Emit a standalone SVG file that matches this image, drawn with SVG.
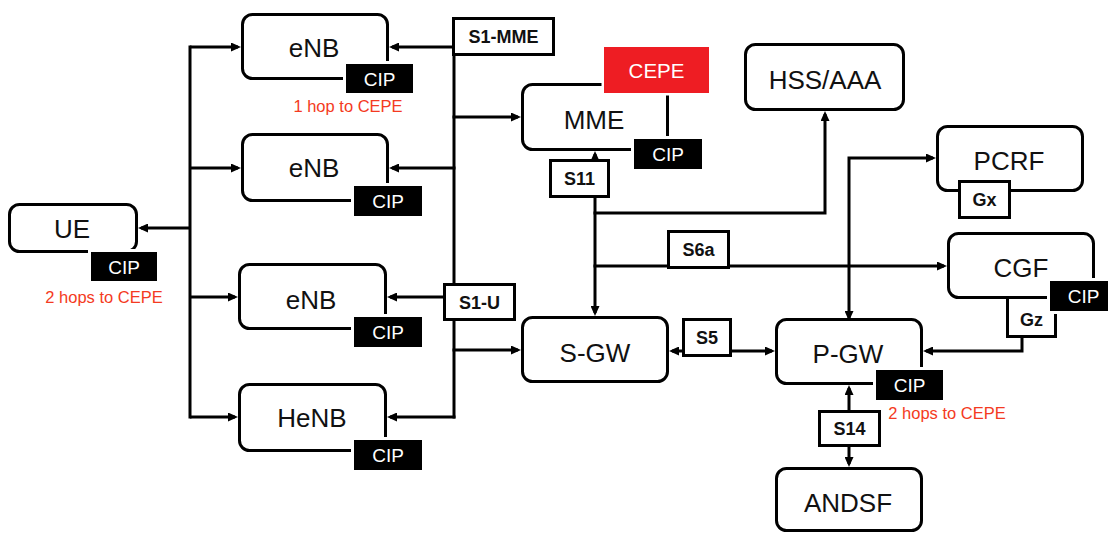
<svg xmlns="http://www.w3.org/2000/svg" width="1108" height="534" viewBox="0 0 1108 534">
  <defs>
    <marker id="arrow" viewBox="0 0 10 9" markerUnits="userSpaceOnUse" markerWidth="10" markerHeight="9" refX="7" refY="4.5" orient="auto-start-reverse">
      <path d="M0,0 L10,4.5 L0,9 z" fill="#000"/>
    </marker>
    <style>
      .box { fill: #fff; stroke: #000; stroke-width: 3; }
      .wire { fill: none; stroke: #000; stroke-width: 3; }
      .arr { fill: none; stroke: #000; stroke-width: 3; marker-end: url(#arrow); }
      .name { font-family: "Liberation Sans", Arial, sans-serif; font-size: 26px; fill: #111; text-anchor: middle; }
      .cip { fill: #000; stroke: #fff; stroke-width: 6; paint-order: stroke fill; }
      .cipt { font-family: "Liberation Sans", Arial, sans-serif; font-size: 19px; fill: #fff; text-anchor: middle; }
      .cepe { fill: #ee1d23; stroke: #fff; stroke-width: 5; paint-order: stroke fill; }
      .cepet { font-family: "Liberation Sans", Arial, sans-serif; font-size: 20.5px; fill: #fff; text-anchor: middle; }
      .ifc { fill: #fff; stroke: #000; stroke-width: 3; }
      .ifct { font-family: "Liberation Sans", Arial, sans-serif; font-size: 18px; font-weight: bold; fill: #111; text-anchor: middle; }
      .hop { font-family: "Liberation Sans", Arial, sans-serif; font-size: 16.5px; fill: #f43a22; text-anchor: middle; }
    </style>
  </defs>
  <rect width="1108" height="534" fill="#fff"/>

  <!-- links between elements -->
  <g id="connectors">
    <!-- UE side bus to the radio nodes -->
    <path class="wire" d="M190,45.5 V418.5"/>
    <path class="arr" d="M190,47 H238"/>
    <path class="arr" d="M190,168 H238"/>
    <path class="arr" d="M190,297 H235"/>
    <path class="arr" d="M190,417 H235"/>
    <path class="arr" d="M190,228 H141"/>
    <!-- S1-MME -->
    <path class="wire" d="M454,56 V284"/>
    <path class="arr" d="M452,47 H392"/>
    <path class="arr" d="M455.5,168 H392"/>
    <path class="arr" d="M452.5,117 H518"/>
    <!-- S1-U -->
    <path class="wire" d="M454,321 V418.5"/>
    <path class="arr" d="M444,297 H390"/>
    <path class="arr" d="M452.5,350 H518"/>
    <path class="arr" d="M455.5,417 H390"/>
    <!-- S11 -->
    <path class="arr" d="M595,160 V154"/>
    <path class="arr" d="M595,198 V313"/>
    <path class="arr" d="M593.5,213 H825 V114"/>
    <!-- S6a -->
    <path class="arr" d="M593.5,266 H944"/>
    <!-- Gx path: PCRF and P-GW -->
    <path class="arr" d="M849,318 V158 H933" style="marker-start:url(#arrow)"/>
    <!-- S5 -->
    <path class="arr" d="M683,351 H672"/>
    <path class="arr" d="M731,351 H772"/>
    <!-- Gz -->
    <path class="arr" d="M1022,337 V351 H926"/>
    <!-- S14 -->
    <path class="arr" d="M849,411 V388"/>
    <path class="arr" d="M849,446 V464"/>
  </g>

  <g id="enb1">
    <rect class="box" x="242.5" y="14.5" width="145" height="64" rx="10"/>
    <text class="name" x="314" y="57">eNB</text>
    <rect class="cip" x="346" y="64" width="67" height="29"/>
    <text class="cipt" x="379.5" y="85.5">CIP</text>
    <text class="hop" x="348" y="112">1 hop to CEPE</text>
  </g>

  <g id="enb2">
    <rect class="box" x="242.5" y="134.5" width="145" height="66" rx="10"/>
    <text class="name" x="314" y="177">eNB</text>
    <rect class="cip" x="354" y="186" width="68" height="30"/>
    <text class="cipt" x="388" y="208">CIP</text>
  </g>

  <g id="ue">
    <rect class="box" x="9.5" y="204.5" width="127" height="47" rx="10"/>
    <text class="name" x="72" y="238">UE</text>
    <rect class="cip" x="91" y="252" width="66" height="29"/>
    <text class="cipt" x="124" y="273.5">CIP</text>
    <text class="hop" x="104" y="303">2 hops to CEPE</text>
  </g>

  <g id="enb3">
    <rect class="box" x="239.5" y="264.5" width="146" height="64" rx="10"/>
    <text class="name" x="311" y="309">eNB</text>
    <rect class="cip" x="354" y="317" width="68" height="30"/>
    <text class="cipt" x="388" y="339">CIP</text>
  </g>

  <g id="henb">
    <rect class="box" x="239.5" y="384.5" width="146" height="66" rx="10"/>
    <text class="name" x="312" y="427">HeNB</text>
    <rect class="cip" x="354" y="440" width="68" height="30"/>
    <text class="cipt" x="388" y="462">CIP</text>
  </g>

  <g id="mme">
    <rect class="box" x="522.5" y="84.5" width="145" height="65" rx="10"/>
    <text class="name" x="594" y="129">MME</text>
    <rect class="cepe" x="604" y="47" width="105" height="46"/>
    <text class="cepet" x="656.5" y="78">CEPE</text>
    <rect class="cip" x="634" y="139" width="68" height="30"/>
    <text class="cipt" x="668" y="161">CIP</text>
  </g>

  <g id="hss-aaa">
    <rect class="box" x="745.5" y="44.5" width="158" height="65" rx="10"/>
    <text class="name" x="825" y="89">HSS/AAA</text>
  </g>

  <g id="pcrf">
    <rect class="box" x="937.5" y="126.5" width="145" height="64" rx="10"/>
    <text class="name" x="1009" y="170">PCRF</text>
  </g>

  <g id="cgf">
    <rect class="box" x="948.5" y="233.5" width="145" height="64" rx="10"/>
    <text class="name" x="1021" y="277">CGF</text>
  </g>

  <g id="s-gw">
    <rect class="box" x="522.5" y="317.5" width="145" height="64" rx="10"/>
    <text class="name" x="595" y="362">S-GW</text>
  </g>

  <g id="p-gw">
    <rect class="box" x="776.5" y="319.5" width="145" height="64" rx="10"/>
    <text class="name" x="848" y="363">P-GW</text>
    <rect class="cip" x="876" y="370" width="67" height="30"/>
    <text class="cipt" x="909.5" y="392">CIP</text>
    <text class="hop" x="947" y="419">2 hops to CEPE</text>
  </g>

  <g id="andsf">
    <rect class="box" x="776.5" y="468.5" width="145" height="62" rx="10"/>
    <text class="name" x="848" y="512">ANDSF</text>
  </g>

  <!-- interface reference points -->
  <g id="if-s1-mme">
    <rect class="ifc" x="453.5" y="18.5" width="100" height="36"/>
    <text class="ifct" x="503.5" y="43">S1-MME</text>
  </g>
  <g id="if-s1-u">
    <rect class="ifc" x="444.5" y="284.5" width="70" height="35"/>
    <text class="ifct" x="479.5" y="308.5">S1-U</text>
  </g>
  <g id="if-s11">
    <rect class="ifc" x="550.5" y="160.5" width="58" height="36"/>
    <text class="ifct" x="579.5" y="185">S11</text>
  </g>
  <g id="if-s6a">
    <rect class="ifc" x="668.5" y="231.5" width="60" height="36"/>
    <text class="ifct" x="698.5" y="256">S6a</text>
  </g>
  <g id="if-s5">
    <rect class="ifc" x="683.5" y="319.5" width="47" height="36"/>
    <text class="ifct" x="707" y="344">S5</text>
  </g>
  <g id="if-s14">
    <rect class="ifc" x="819.5" y="411.5" width="60" height="34"/>
    <text class="ifct" x="849.5" y="435">S14</text>
  </g>
  <g id="if-gx">
    <rect class="ifc" x="959.5" y="181.5" width="50" height="36"/>
    <text class="ifct" x="984.5" y="206">Gx</text>
  </g>
  <g id="if-gz">
    <rect class="ifc" x="1007.5" y="297.5" width="48" height="39"/>
    <text class="ifct" x="1031.5" y="326">Gz</text>
  </g>

  <!-- CGF charging interface badge sits over the Gz box corner -->
  <g id="cgf-cip">
    <rect class="cip" x="1050" y="281" width="67" height="30"/>
    <text class="cipt" x="1083.5" y="303">CIP</text>
  </g>
</svg>
